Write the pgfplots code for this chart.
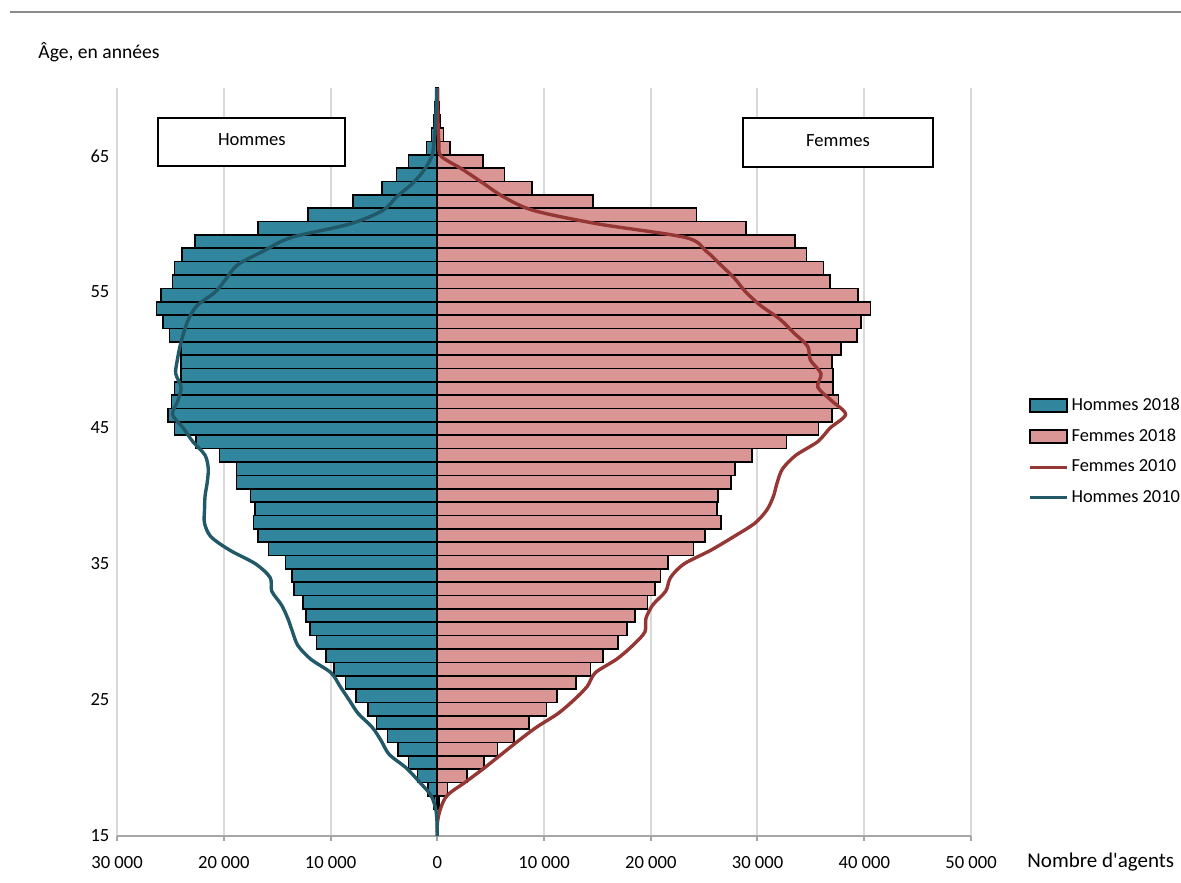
\documentclass[border=0pt]{standalone}
\usepackage{fontspec}
\setmainfont{Carlito}
\newfontfamily\plaincarlito{Carlito}
\usepackage{pgfplots}
\usepackage{pgfplotstable}
\pgfplotsset{compat=1.18}

\definecolor{tealbar}{HTML}{31859C}
\definecolor{pinkbar}{HTML}{DA9694}
\definecolor{femme10}{HTML}{953735}
\definecolor{homme10}{HTML}{215968}
\definecolor{gridgrey}{HTML}{D9D9D9}
\definecolor{axisgrey}{HTML}{A6A6A6}
\definecolor{rulegrey}{HTML}{8C8C8C}

\pgfplotstableread{
age h18 f18
17 -300 150
18 -850 970
19 -1850 2800
20 -2700 4400
21 -3650 5650
22 -4650 7200
23 -5700 8600
24 -6500 10250
25 -7600 11200
26 -8600 13000
27 -9700 14350
28 -10400 15500
29 -11300 16950
30 -11900 17800
31 -12300 18500
32 -12600 19700
33 -13400 20400
34 -13600 20900
35 -14200 21600
36 -15800 24000
37 -16800 25100
38 -17200 26600
39 -17100 26200
40 -17500 26300
41 -18800 27500
42 -18800 27900
43 -20400 29500
44 -22600 32700
45 -24600 35700
46 -25200 37000
47 -24900 37600
48 -24600 37100
49 -24000 37100
50 -24000 37000
51 -24000 37800
52 -25100 39300
53 -25700 39700
54 -26300 40600
55 -25900 39400
56 -24800 36800
57 -24600 36200
58 -23900 34600
59 -22700 33500
60 -16800 28900
61 -12100 24300
62 -7900 14600
63 -5200 8900
64 -3800 6300
65 -2700 4300
66 -1000 1200
67 -550 600
68 -350 250
69 -200 150
70 -150 80
}\bars

\pgfplotstableread{
age h10 f10
15 0 0
16 -20 20
17 -150 300
18 -600 950
19 -1700 2700
20 -2900 4400
21 -4500 6000
22 -5250 7600
23 -6100 9300
24 -7400 11300
25 -8250 12800
26 -9100 14050
27 -9950 14800
28 -11850 16800
29 -13050 18300
30 -13550 19450
31 -14000 19550
32 -14600 20200
33 -15500 21400
34 -15650 21850
35 -17000 23100
36 -19400 25600
37 -21200 27750
38 -21800 29750
39 -21800 30900
40 -21750 31500
41 -21550 31850
42 -21450 32350
43 -21750 33600
44 -22900 35650
45 -23800 36800
46 -24800 38250
47 -24300 36950
48 -24000 35650
49 -24500 35950
50 -24350 34950
51 -24100 34700
52 -23750 33400
53 -23300 32100
54 -22500 30300
55 -20800 28900
56 -19750 27850
57 -18700 26550
58 -16300 25200
59 -13700 23300
60 -8200 15100
61 -5100 9000
62 -3800 6200
63 -2300 4300
64 -1200 2400
65 -500 350
66 -300 150
67 -200 90
68 -130 60
69 -80 40
70 -50 30
}\lines

\begin{document}
\fontsize{9.3pt}{11pt}\selectfont
\begin{tikzpicture}[font=\fontsize{9.3pt}{11pt}\selectfont]
\path[use as bounding box] (0,0) rectangle (590.5pt,441pt);
\draw[rulegrey, line width=1pt] (5pt,435pt) -- (590.5pt,435pt);

\begin{axis}[
  at={(58.5pt,23pt)}, anchor=south west,
  scale only axis, width=427pt, height=374pt,
  xmin=-30000, xmax=50000, ymin=14.5, ymax=70.5,
  axis x line*=bottom, hide y axis,
  xtick={-30000,-20000,-10000,0,10000,20000,30000,40000,50000},
  xticklabels={30~000,20~000,10~000,0,10~000,20~000,30~000,40~000,50~000},
  xmajorgrids, grid style={gridgrey, line width=1pt},
  x axis line style={axisgrey, line width=1pt, -},
  xtick style={axisgrey, line width=1pt},
  tick align=outside, major tick length=2.5pt,
  xticklabel style={yshift=-4.5pt},
]
\addplot[xbar, bar shift=0pt, bar width=1, fill=tealbar, draw=black, line width=0.8pt] table[x=h18, y=age] {\bars};
\addplot[xbar, bar shift=0pt, bar width=1, fill=pinkbar, draw=black, line width=0.8pt] table[x=f18, y=age] {\bars};
\end{axis}

\begin{axis}[
  at={(58.5pt,23pt)}, anchor=south west,
  scale only axis, width=427pt, height=374pt,
  xmin=-30000, xmax=50000, ymin=15, ymax=70,
  hide x axis,
  axis y line*=left, y axis line style={draw=none},
  ytick={15,25,35,45,55,65}, major tick length=0pt,
  /pgf/number format/assume math mode=true,
  yticklabel style={xshift=-0.5pt},
  legend style={at={(1.0665,0.592)}, anchor=north west, draw=none, fill=none,
    row sep=3.9pt, inner sep=0pt, font=\fontsize{9.2pt}{11pt}\selectfont,
    nodes={inner xsep=1.5pt}},
  legend cell align=left,
  legend image code/.code={\draw[#1] (0pt,0pt) -- (18.5pt,0pt);},
]
\addlegendimage{legend image code/.code={\draw[fill=tealbar, draw=black, line width=0.8pt] (0pt,-3.25pt) rectangle (18.5pt,3.25pt);}}
\addlegendentry{Hommes 2018}
\addlegendimage{legend image code/.code={\draw[fill=pinkbar, draw=black, line width=0.8pt] (0pt,-3.25pt) rectangle (18.5pt,3.25pt);}}
\addlegendentry{Femmes 2018}
\addplot[femme10, line width=1.7pt, smooth, tension=0.5] table[x=f10, y=age] {\lines};
\addlegendentry{Femmes 2010}
\addplot[homme10, line width=1.7pt, smooth, tension=0.5] table[x=h10, y=age] {\lines};
\addlegendentry{Hommes 2010}
\node[draw=black, line width=0.9pt, fill=white, minimum width=93.5pt, minimum height=24pt] at (axis cs:-17370,66.05) {\raisebox{2pt}{Hommes}};
\node[draw=black, line width=0.9pt, fill=white, minimum width=95pt, minimum height=24.5pt] at (axis cs:37550,66.0) {\raisebox{2pt}{Femmes}};
\end{axis}

\node[anchor=west, inner sep=0pt, font=\fontsize{9.8pt}{11pt}\selectfont] at (19pt,415pt) {Âge, en années};
\node[anchor=west, inner sep=0pt, font=\fontsize{10.5pt}{12pt}\plaincarlito] at (513.5pt,10pt) {Nombre d'agents};
\end{tikzpicture}
\end{document}
